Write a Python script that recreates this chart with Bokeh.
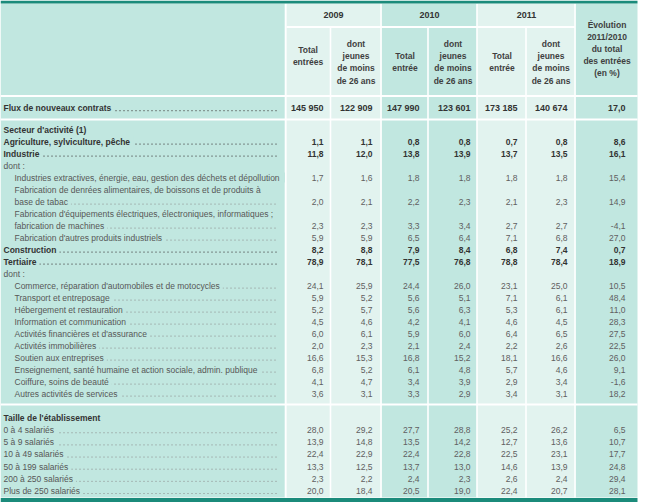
from bokeh.plotting import figure
from bokeh.models import Range1d, ColumnDataSource
from bokeh.core.properties import value
from bokeh.embed import file_html
from bokeh.resources import INLINE

# ---------------- data ----------------
years = ["2009", "2010", "2011"]
head_total_2009 = ["Total", "entrées"]
head_total = ["Total", "entrée"]
head_jeunes = ["dont", "jeunes", "de moins", "de 26 ans"]
head_evol = ["Évolution", "2011/2010", "du total", "des entrées", "(en %)"]

labels = [
    "Flux de nouveaux contrats",
    "Secteur d'activité (1)",
    "Agriculture, sylviculture, pêche",
    "Industrie",
    "dont :",
    "Industries extractives,  énergie, eau, gestion des déchets et dépollution",
    "Fabrication de denrées alimentaires, de boissons et  de produits à",
    "base de tabac",
    "Fabrication d'équipements électriques, électroniques, informatiques ;",
    "fabrication de machines",
    "Fabrication d'autres produits industriels",
    "Construction",
    "Tertiaire",
    "dont :",
    "Commerce, réparation d'automobiles et de motocycles",
    "Transport et entreposage",
    "Hébergement et restauration",
    "Information et communication",
    "Activités financières et d'assurance",
    "Activités immobilières",
    "Soutien aux entreprises",
    "Enseignement, santé humaine et action sociale, admin. publique",
    "Coiffure, soins de beauté",
    "Autres activités de services",
    "Taille de l'établissement",
    "0 à 4 salariés",
    "5 à 9 salariés",
    "10 à 49 salariés",
    "50 à 199 salariés",
    "200 à 250 salariés",
    "Plus de 250 salariés",
]
levels = (["total", "section", "main", "main", "dont"] + ["sub"] * 6 +
          ["main", "main", "dont"] + ["sub"] * 10 + ["section"] + ["size"] * 6)

total_2009 = [145950, None, 1.1, 11.8, None, 1.7, None, 2.0, None, 2.3, 5.9, 8.2, 78.9, None,
              24.1, 5.9, 5.2, 4.5, 6.0, 2.0, 16.6, 6.8, 4.1, 3.6, None,
              28.0, 13.9, 22.4, 13.3, 2.3, 20.0]
jeunes_2009 = [122909, None, 1.1, 12.0, None, 1.6, None, 2.1, None, 2.3, 5.9, 8.8, 78.1, None,
               25.9, 5.2, 5.7, 4.6, 6.1, 2.3, 15.3, 5.2, 4.7, 3.1, None,
               29.2, 14.8, 22.9, 12.5, 2.2, 18.4]
total_2010 = [147990, None, 0.8, 13.8, None, 1.8, None, 2.2, None, 3.3, 6.5, 7.9, 77.5, None,
              24.4, 5.6, 5.6, 4.2, 5.9, 2.1, 16.8, 6.1, 3.4, 3.3, None,
              27.7, 13.5, 22.4, 13.7, 2.4, 20.5]
jeunes_2010 = [123601, None, 0.8, 13.9, None, 1.8, None, 2.3, None, 3.4, 6.4, 8.4, 76.8, None,
               26.0, 5.1, 6.3, 4.1, 6.0, 2.4, 15.2, 4.8, 3.9, 2.9, None,
               28.8, 14.2, 22.8, 13.0, 2.3, 19.0]
total_2011 = [173185, None, 0.7, 13.7, None, 1.8, None, 2.1, None, 2.7, 7.1, 6.8, 78.8, None,
              23.1, 7.1, 5.3, 4.6, 6.4, 2.2, 18.1, 5.7, 2.9, 3.4, None,
              25.2, 12.7, 22.5, 14.6, 2.6, 22.4]
jeunes_2011 = [140674, None, 0.8, 13.5, None, 1.8, None, 2.3, None, 2.7, 6.8, 7.4, 78.4, None,
               25.0, 6.1, 6.1, 4.5, 6.5, 2.6, 16.6, 4.6, 3.4, 3.1, None,
               26.2, 13.6, 23.1, 13.9, 2.4, 20.7]
evolution = [17.0, None, 8.6, 16.1, None, 15.4, None, 14.9, None, -4.1, 27.0, 0.7, 18.9, None,
             10.5, 48.4, 11.0, 28.3, 27.5, 22.5, 26.0, 9.1, -1.6, 18.2, None,
             6.5, 10.7, 17.7, 24.8, 29.4, 28.1]

# ---------------- styling / layout ----------------
FONT = "Liberation Sans"
DARK = "#c1e7e0"
LIGHT = "#e2f3ef"
RULE = "#1b8b7b"
TXT_B = "#333333"
TXT_R = "#575757"

COL_L = [286, 331, 382, 429, 478, 527, 576]
COL_R = [329, 380, 427, 476, 525, 574, 637]
NUM_X = [323, 372, 419, 470, 517, 567, 625]
LEAD_END = 276


def row_y(i):
    if i == 0:
        return 107.5
    if i <= 23:
        return 129.0 + 12.0 * (i - 1)
    return 417.5 + 12.15 * (i - 24)


def fmt(v):
    if isinstance(v, int):
        return f"{v:,}".replace(",", " ")
    return f"{v:.1f}".replace(".", ",")


p = figure(width=646, height=504, x_range=Range1d(0, 646), y_range=Range1d(504, 0),
           output_backend="svg", toolbar_location=None, min_border=0,
           x_axis_type=None, y_axis_type=None, outline_line_color=None,
           background_fill_color="white", border_fill_color="white")

# column backgrounds
p.quad(left=[0, 286, 381, 477, 575], right=[285, 381, 477, 575, 637],
       top=[3] * 5, bottom=[497] * 5,
       fill_color=[DARK, LIGHT, DARK, LIGHT, DARK], line_color=None)

# white separators
vx0 = [285, 380.5, 476.5, 574.5, 330, 427.5, 525.5]
vy0 = [3, 3, 3, 3, 27, 27, 27]
p.segment(x0=vx0, y0=vy0, x1=vx0, y1=[497] * 7, line_color="white", line_width=1.6)
hy = [26.5, 95.5, 119.0, 404.0]
p.segment(x0=[286, 0, 0, 0], y0=hy, x1=[574.5, 637, 637, 637], y1=hy,
          line_color="white", line_width=1.8)

# top and bottom rules
p.quad(left=[0, 0], right=[637, 637], top=[0, 497.5], bottom=[3, 501.5],
       fill_color=RULE, line_color=None)

# ---------------- header ----------------
year_cx = [(COL_L[0] + COL_R[1]) / 2, (COL_L[2] + COL_R[3]) / 2, (COL_L[4] + COL_R[5]) / 2]
p.text(x=year_cx, y=[14.5] * 3, text=years, text_align="center", text_baseline="middle",
       text_font=value(FONT), text_font_size="9px", text_font_style="bold", text_color=TXT_B)

hx, hyy, ht = [], [], []
cx = [(l + r) / 2 for l, r in zip(COL_L, COL_R)]
for j in range(6):
    if j == 0:
        lines, y0 = head_total_2009, 49.5
    elif j % 2 == 0:
        lines, y0 = head_total, 55.5
    else:
        lines, y0 = head_jeunes, 43.5
    for k, s in enumerate(lines):
        hx.append(cx[j]); hyy.append(y0 + 12.2 * k); ht.append(s)
for k, s in enumerate(head_evol):
    hx.append(cx[6]); hyy.append(24.5 + 12.1 * k); ht.append(s)
p.text(x=hx, y=hyy, text=ht, text_align="center", text_baseline="middle",
       text_font=value(FONT), text_font_size="8.5px", text_font_style="bold", text_color="#3f3f3f")

# ---------------- body ----------------
series = [total_2009, jeunes_2009, total_2010, jeunes_2010, total_2011, jeunes_2011, evolution]
bold_levels = {"total", "section", "main"}

lead_b = dict(x0=[], x1=[], y=[])
lead_r = dict(x0=[], x1=[], y=[])
lab = {k: dict(x=[], y=[], text=[]) for k in ("bold", "reg")}
num = {k: dict(x=[], y=[], text=[]) for k in ("total", "bold", "reg")}

for i, (lbl, lev) in enumerate(zip(labels, levels)):
    y = row_y(i)
    has_val = total_2009[i] is not None
    lx = 13 if lev == "sub" else 2
    key = "bold" if lev in bold_levels else "reg"
    lab[key]["x"].append(lx); lab[key]["y"].append(y); lab[key]["text"].append(lbl)
    if has_val:
        d = lead_b if lev in bold_levels else lead_r
        d["x0"].append(lx + 1); d["x1"].append(LEAD_END); d["y"].append(y + 2.6)
        nk = "total" if lev == "total" else ("bold" if lev in bold_levels else "reg")
        for j, s in enumerate(series):
            num[nk]["x"].append(NUM_X[j]); num[nk]["y"].append(y); num[nk]["text"].append(fmt(s[i]))

# dot leaders
p.segment(x0="x0", y0="y", x1="x1", y1="y", source=ColumnDataSource(lead_b),
          line_color="#4a4a4a", line_width=1.2, line_dash="1 3")
p.segment(x0="x0", y0="y", x1="x1", y1="y", source=ColumnDataSource(lead_r),
          line_color="#8a8a8a", line_width=1.0, line_dash="1 3")

common = dict(text_baseline="middle", text_font=value(FONT))
pad = dict(left=1, right=3, top=0, bottom=0)
p.text(x="x", y="y", text="text", source=ColumnDataSource(lab["bold"]), text_align="left",
       text_font_size="8.5px", text_font_style="bold", text_color=TXT_B,
       background_fill_color=DARK, padding=pad, **common)
p.text(x="x", y="y", text="text", source=ColumnDataSource(lab["reg"]), text_align="left",
       text_font_size="8.5px", text_color=TXT_R,
       background_fill_color=DARK, padding=pad, **common)

p.text(x="x", y="y", text="text", source=ColumnDataSource(num["total"]), text_align="right",
       text_font_size="9px", text_font_style="bold", text_color=TXT_B, **common)
p.text(x="x", y="y", text="text", source=ColumnDataSource(num["bold"]), text_align="right",
       text_font_size="8.5px", text_font_style="bold", text_color=TXT_B, **common)
p.text(x="x", y="y", text="text", source=ColumnDataSource(num["reg"]), text_align="right",
       text_font_size="8.5px", text_color="#606060", **common)

open("out.html", "w").write(file_html(p, INLINE))
